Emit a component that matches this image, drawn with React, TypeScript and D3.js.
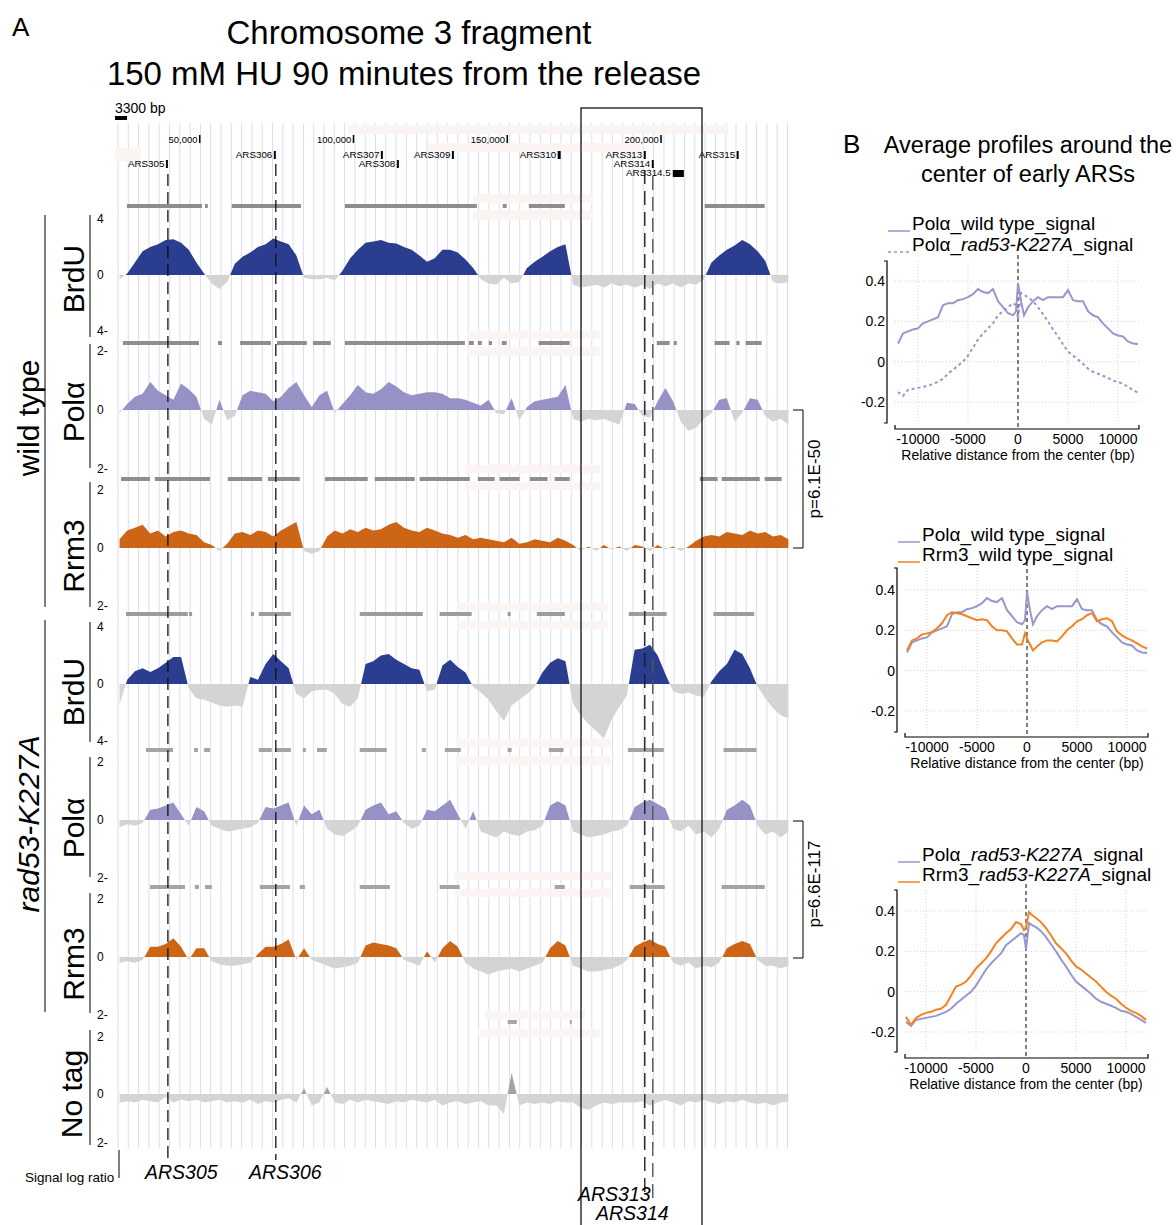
import React from 'react';
import * as d3 from 'd3';

// ================= DATA =================
// genome signal tracks: log ratio sampled every 2.5 kb starting at 24 kb (chromosome III)
const TRACK_START_KB = 24;
const TRACK_STEP_KB = 2.5;

const WT_BRDU = [-0.3,0.1,0.9,1.7,2.0,2.2,2.5,2.55,2.3,1.8, 0.9,0.1,-0.6,-1.0,-0.5,0.8,1.3,1.6,2.0,2.2, 2.6,2.4,2.2,1.4,-0.2,-0.3,-0.3,-0.2,-0.4,0.3, 1.2,1.8,2.3,2.4,2.5,2.3,2.25,2.0,1.8,1.4, 0.95,1.2,1.8,1.8,1.6,1.1,0.5,-0.3,-0.6,-0.7, -0.2,-0.6,-0.5,0.5,0.95,1.3,1.7,2.0,2.2,-0.7, -0.9,-0.8,-0.7,-0.9,-0.6,-0.8,-0.7,-0.9,-0.7,-1.0, -0.6,-0.8,-0.6,-0.9,-0.6,-0.7,-0.3,0.9,1.4,1.8, 2.1,2.5,2.2,1.7,1.0,-0.5,-0.6,-0.5];
const WT_POLA = [-0.1,0.2,0.45,0.55,0.95,0.65,0.5,0.35,0.9,0.7, 0.45,-0.3,-0.5,0.35,-0.35,-0.2,0.5,0.65,0.6,0.55, 0.3,0.45,0.75,0.95,0.5,0.1,0.5,0.65,-0.1,0.2, 0.5,0.85,0.6,0.55,0.7,0.95,0.8,0.6,0.5,0.55, 0.6,0.6,0.55,0.4,0.4,0.35,0.25,0.15,0.35,-0.1, -0.15,0.4,-0.35,0.1,0.3,0.35,0.4,0.45,0.85,-0.3, -0.4,-0.3,-0.35,-0.3,-0.4,-0.5,0.25,0.2,-0.2,-0.25, 0.3,0.75,0.3,-0.4,-0.7,-0.6,-0.3,-0.1,0.35,0.4, -0.4,-0.1,0.4,0.35,-0.2,-0.4,-0.3,-0.5];
const WT_RRM3 = [0.3,0.6,0.7,0.8,0.5,0.6,0.4,0.55,0.6,0.5, 0.45,0.2,0.1,-0.1,0.15,0.5,0.55,0.45,0.6,0.55, 0.4,0.6,0.75,0.9,-0.1,-0.2,-0.1,0.4,0.6,0.5, 0.65,0.55,0.7,0.6,0.65,0.8,0.9,0.7,0.6,0.55, 0.7,0.6,0.5,0.45,0.35,0.45,0.3,0.35,0.3,0.25, 0.2,0.35,0.15,0.2,0.3,0.25,0.2,0.35,0.25,0.1, -0.1,0.05,-0.1,0.1,-0.05,0.05,-0.1,0.1,0.05,-0.1, 0.1,-0.05,0.05,-0.1,0.05,0.25,0.4,0.45,0.4,0.55, 0.5,0.45,0.6,0.5,0.55,0.4,0.45,0.3];
const RAD_BRDU = [-1.4,0.3,0.9,1.1,0.85,1.1,1.5,1.9,1.9,-0.3, -1.0,-1.1,-1.3,-1.5,-1.6,-1.5,-1.6,0.5,0.3,1.4, 2.1,1.6,1.1,-0.7,-1.0,-0.5,-0.4,-0.4,-0.7,-1.4, -1.6,-1.0,1.4,1.6,2.0,2.1,1.7,1.4,1.1,1.0, -0.5,-0.4,1.3,1.7,1.2,0.8,-0.2,-0.6,-1.1,-1.9, -2.6,-1.5,-1.1,-0.7,-0.2,0.8,1.5,1.8,1.6,-1.4, -2.2,-2.8,-3.3,-3.8,-2.5,-1.6,-0.8,2.4,2.5,2.75, 2.0,0.7,-0.5,-0.7,-0.6,-0.8,-0.9,0.2,0.9,1.4, 2.4,2.1,1.1,-0.2,-1.0,-1.7,-2.2,-2.4];
const RAD_POLA = [-0.25,-0.15,-0.2,-0.1,0.35,0.4,0.5,0.6,0.2,-0.2, 0.45,0.3,-0.2,-0.3,-0.4,-0.35,-0.3,-0.25,-0.1,0.45, 0.4,0.5,0.6,-0.2,0.5,0.2,0.35,-0.3,-0.5,-0.55, -0.4,-0.2,0.35,0.5,0.6,0.2,0.3,-0.1,-0.3,-0.2, 0.35,0.3,0.5,0.7,0.2,-0.3,0.3,-0.4,-0.5,-0.6, -0.4,-0.5,-0.55,-0.4,-0.35,-0.2,0.5,0.65,0.5,-0.4, -0.5,-0.6,-0.55,-0.5,-0.4,-0.35,-0.2,0.45,0.6,0.7, 0.55,0.4,-0.3,-0.4,-0.2,-0.5,-0.4,-0.6,-0.3,0.35, 0.5,0.7,0.5,-0.2,-0.5,-0.4,-0.6,-0.4];
const RAD_RRM3 = [-0.2,-0.15,-0.2,-0.1,0.35,0.35,0.45,0.65,0.35,-0.1, 0.3,0.3,-0.15,-0.25,-0.3,-0.3,-0.25,-0.2,0.1,0.35, 0.35,0.45,0.6,-0.1,0.3,-0.1,-0.2,-0.3,-0.4,-0.35, -0.3,-0.2,0.4,0.5,0.45,0.4,0.3,-0.1,-0.2,-0.3, 0.2,-0.2,0.3,0.55,0.35,-0.2,-0.4,-0.5,-0.6,-0.5, -0.45,-0.4,-0.5,-0.4,-0.3,-0.2,0.3,0.55,0.4,-0.3, -0.4,-0.5,-0.5,-0.45,-0.4,-0.3,-0.1,0.35,0.5,0.6, 0.45,0.35,-0.2,-0.3,-0.2,-0.4,-0.3,-0.35,-0.2,0.3, 0.45,0.55,0.45,-0.1,-0.3,-0.3,-0.4,-0.3];
const NO_TAG = [-0.3,-0.25,-0.3,-0.2,-0.25,-0.3,-0.1,-0.3,-0.2,-0.25, -0.2,-0.3,-0.25,-0.2,-0.3,-0.25,-0.3,-0.2,-0.35,-0.25, -0.3,-0.2,-0.15,-0.3,0.2,-0.4,-0.3,0.25,-0.3,-0.35, -0.2,-0.3,-0.2,-0.25,-0.3,-0.35,-0.25,-0.3,-0.2,-0.25, -0.3,-0.2,-0.4,-0.3,-0.25,-0.35,-0.3,-0.25,-0.4,-0.4, -0.7,0.75,-0.4,-0.3,-0.35,-0.3,-0.35,-0.25,-0.3,-0.3, -0.5,-0.55,-0.4,-0.3,-0.35,-0.3,-0.3,-0.3,-0.25,-0.4, -0.3,-0.2,-0.3,-0.4,-0.25,-0.3,-0.2,-0.3,-0.35,-0.25, -0.3,-0.2,-0.3,-0.35,-0.3,-0.4,-0.3,-0.25];

// called enriched segments (kb) drawn as gray bars above each track
const WT_BRDU_SEGS = [[26.4,50.8],[51.8,52.7],[60.5,83.0],[97.3,140.2],[148.6,149.9],[157.1,168.8],[214.3,233.8]];
const WT_POLA_SEGS = [[25.1,49.8],[56.0,57.3],[63.2,73.2],[75.2,84.9],[86.9,92.7],[97.3,136.3],[137.6,139.2],[140.5,141.8],[144.1,145.1],[148.3,149.9],[160.3,170.4],[198.7,202.9],[204.2,205.2],[217.5,222.4],[224.6,225.6],[227.6,232.8]];
const WT_RRM3_SEGS = [[24.5,33.9],[35.5,53.4],[59.2,70.3],[72.2,82.6],[90.8,104.7],[107.0,120.0],[121.6,137.9],[140.5,146.0],[147.6,154.1],[157.4,163.2],[165.5,170.4],[212.7,218.5],[219.8,232.2],[233.8,239.3]];
const RAD_BRDU_SEGS = [[26.1,46.2],[46.6,47.6],[66.7,67.7],[69.3,79.7],[102.1,122.6],[128.1,138.5],[150.2,151.2],[159.7,168.8],[189.6,201.9],[217.1,230.4]];
const RAD_POLA_SEGS = [[32.6,41.4],[48.2,49.5],[51.5,53.4],[69.3,73.5],[74.5,79.7],[83.6,84.6],[88.2,91.4],[102.1,110.9],[122.3,123.6],[129.8,135.0],[150.2,151.5],[163.6,168.4],[189.3,201.0],[220.4,231.1]];
const RAD_RRM3_SEGS = [[33.9,45.3],[48.5,49.8],[51.8,54.0],[69.6,79.4],[82.6,84.3],[102.1,111.9],[128.1,134.6],[165.5,168.8],[189.9,201.3],[219.8,233.8]];
const NO_TAG_SEGS = [[150.2,153.2],[170.4,171.0]];

const POSITION_TICKS_KB = [50, 100, 150, 200];
const POSITION_TICK_LABELS = ['50,000', '100,000', '150,000', '200,000'];
const ARS_NAMES = ['ARS305','ARS306','ARS307','ARS308','ARS309','ARS310','ARS313','ARS314','ARS315'];
const ARS_KB = [39.4, 74.5, 109.3, 114.5, 132.4, 166.8, 194.8, 197.4, 225.0];
const ARS3145_KB = [203.9, 207.5];

// average profiles around early ARS centres (bp, log ratio)
const PROFILE_BP = [-12000,-11500,-11000,-10500,-10000,-9500,-9000,-8500,-8000,-7500,-7000,-6500,-6000,-5500,-5000,-4500,-4000,-3500,-3000,-2500,-2000,-1500,-1000,-500,-200,0,300,600,1000,1500,2000,2500,3000,3500,4000,4500,5000,5500,6000,6500,7000,7500,8000,8500,9000,9500,10000,10500,11000,11500,12000];
const POLA_WT_PROFILE = [0.09,0.14,0.15,0.16,0.165,0.19,0.2,0.21,0.22,0.28,0.29,0.29,0.305,0.31,0.32,0.335,0.36,0.345,0.34,0.36,0.3,0.27,0.24,0.23,0.25,0.39,0.3,0.23,0.27,0.3,0.32,0.305,0.32,0.32,0.32,0.32,0.355,0.305,0.3,0.3,0.25,0.23,0.22,0.19,0.165,0.14,0.13,0.125,0.1,0.09,0.088];
const POLA_RAD_PROFILE = [-0.15,-0.17,-0.14,-0.135,-0.13,-0.125,-0.12,-0.11,-0.1,-0.085,-0.06,-0.04,-0.02,0.0,0.03,0.07,0.11,0.14,0.165,0.19,0.23,0.25,0.27,0.29,0.28,0.21,0.34,0.33,0.32,0.3,0.27,0.235,0.2,0.16,0.125,0.085,0.05,0.03,0.01,-0.01,-0.035,-0.05,-0.06,-0.07,-0.08,-0.095,-0.1,-0.11,-0.125,-0.14,-0.155];
const RRM3_WT_PROFILE = [0.1,0.15,0.16,0.18,0.185,0.19,0.21,0.235,0.275,0.29,0.285,0.28,0.27,0.26,0.25,0.255,0.25,0.22,0.2,0.2,0.195,0.16,0.13,0.13,0.185,0.16,0.13,0.1,0.12,0.14,0.15,0.15,0.145,0.17,0.2,0.22,0.245,0.255,0.275,0.285,0.245,0.255,0.26,0.245,0.195,0.175,0.16,0.15,0.135,0.12,0.11];
const RRM3_RAD_PROFILE = [-0.125,-0.165,-0.13,-0.115,-0.105,-0.1,-0.09,-0.085,-0.065,-0.02,0.025,0.035,0.05,0.08,0.115,0.14,0.165,0.2,0.24,0.265,0.29,0.31,0.345,0.335,0.305,0.32,0.395,0.38,0.365,0.345,0.315,0.28,0.24,0.215,0.19,0.155,0.125,0.11,0.09,0.07,0.05,0.025,0.0,-0.02,-0.035,-0.06,-0.08,-0.095,-0.105,-0.12,-0.14];
const PROFILE_X_TICKS = [-10000, -5000, 0, 5000, 10000];
const PROFILE_Y_TICKS = [0.4, 0.2, 0, -0.2];

// ================= STYLE / LAYOUT =================
const FONT = "'Liberation Sans', Arial, Helvetica, sans-serif";
const BLUE = '#2b3d8f';
const PURPLE = '#9692c6';
const ORANGE = '#cc6516';
const NEG = '#d4d4d4';
const LINE_PURPLE = '#9896cc';
const LINE_ORANGE = '#f58220';

const TRACK_KB = WT_BRDU.map((_, i) => TRACK_START_KB + i * TRACK_STEP_KB);
const xKb = d3.scaleLinear().domain([23.5, 243]).range([118, 793]);

const TRACKS = [
  { values: WT_BRDU, segs: WT_BRDU_SEGS, max: 4, range: [331, 219], fill: BLUE, neg: NEG, barY: 206, barColor: '#8e8e8e', labels: ['4', '0', '4-'], vline: [215, 337] },
  { values: WT_POLA, segs: WT_POLA_SEGS, max: 2, range: [469, 351], fill: PURPLE, neg: NEG, barY: 343, barColor: '#8e8e8e', labels: ['2-', '0', '2-'], vline: [344, 468] },
  { values: WT_RRM3, segs: WT_RRM3_SEGS, max: 2, range: [606, 490], fill: ORANGE, neg: NEG, barY: 479, barColor: '#8e8e8e', labels: ['2', '0', '2-'], vline: [482, 607] },
  { values: RAD_BRDU, segs: RAD_BRDU_SEGS, max: 4, range: [741, 627], fill: BLUE, neg: NEG, barY: 614, barColor: '#9c9c9c', labels: ['4', '0', '4-'], vline: [622, 742] },
  { values: RAD_POLA, segs: RAD_POLA_SEGS, max: 2, range: [878, 762], fill: PURPLE, neg: NEG, barY: 750, barColor: '#a4a4a4', labels: ['2', '0', '2-'], vline: [757, 877] },
  { values: RAD_RRM3, segs: RAD_RRM3_SEGS, max: 2, range: [1015, 899], fill: ORANGE, neg: NEG, barY: 887, barColor: '#a4a4a4', labels: ['2', '0', '2-'], vline: [893, 1013] },
  { values: NO_TAG, segs: NO_TAG_SEGS, max: 2, range: [1151, 1037], fill: '#a3a3a3', neg: NEG, barY: 1022, barColor: '#a8a8a8', labels: ['2', '0', '2-'], vline: [1030, 1145], bottomLabelY: 1143 },
];

const PALE_BANDS = [
  [115,148,141,161],[348,125,728,134],[428,143,640,152],[473,194,593,203],[473,210,593,220],
  [467,331,600,339],[467,347,600,356],[465,465,600,473],[465,482,600,490],
  [457,603,608,611],[457,621,608,629],[456,739,610,747],[456,756,610,765],
  [455,872,612,880],[455,889,612,897],[485,1011,585,1019],[478,1029,600,1037],
];

const ARS_ROW = [1, 0, 0, 1, 0, 0, 0, 1, 0];

function buildPoints(values: number[]) {
  const pts: [number, number][] = [];
  for (let i = 0; i < values.length; i++) {
    pts.push([TRACK_KB[i], values[i]]);
    if (i < values.length - 1) {
      const a = values[i], b = values[i + 1];
      if ((a > 0 && b < 0) || (a < 0 && b > 0)) {
        const t = a / (a - b);
        pts.push([TRACK_KB[i] + t * TRACK_STEP_KB, 0]);
      }
    }
  }
  return pts;
}

function Track({ t }: { t: any }) {
  const y = d3.scaleLinear().domain([-t.max, t.max]).range(t.range);
  const pts = buildPoints(t.values);
  const pos = d3.area<[number, number]>().x(d => xKb(d[0])).y0(y(0)).y1(d => y(Math.max(0, d[1])));
  const neg = d3.area<[number, number]>().x(d => xKb(d[0])).y0(y(0)).y1(d => y(Math.min(0, d[1])));
  return (
    <g>
      {t.segs.map((s: number[], i: number) => (
        <rect key={i} x={xKb(s[0])} y={t.barY - 2} width={Math.max(2, xKb(s[1]) - xKb(s[0]))} height={4} fill={t.barColor} />
      ))}
      <path d={neg(pts) || ''} fill={t.neg} />
      <path d={pos(pts) || ''} fill={t.fill} />
      <text x={97} y={y(t.max)} fontSize={12} dominantBaseline="central">{t.labels[0]}</text>
      <text x={97} y={y(0)} fontSize={12} dominantBaseline="central">{t.labels[1]}</text>
      <text x={97} y={t.bottomLabelY ?? y(-t.max)} fontSize={12} dominantBaseline="central">{t.labels[2]}</text>
      <line x1={90} x2={90} y1={t.vline[0]} y2={t.vline[1]} stroke="#000" strokeWidth={1} />
    </g>
  );
}

const CHARTS = [
  { x0: 898, x1: 1138, y04: 281, yM02: 402, axisX: 887, top: 261, bottom: 423, xAxisY: 429, xl: 895, xr: 1139, legX: 888, legY: [230, 251],
    series: [{ data: POLA_WT_PROFILE, color: LINE_PURPLE, dash: null, label: ['Polα_wild type_signal'] }, { data: POLA_RAD_PROFILE, color: LINE_PURPLE, dash: '3,3', label: ['Polα_', 'rad53-K227A', '_signal'] }] },
  { x0: 907, x1: 1147, y04: 590, yM02: 711, axisX: 897, top: 568, bottom: 732, xAxisY: 737, xl: 905, xr: 1148, legX: 898, legY: [541, 561],
    series: [{ data: POLA_WT_PROFILE, color: LINE_PURPLE, dash: null, label: ['Polα_wild type_signal'] }, { data: RRM3_WT_PROFILE, color: LINE_ORANGE, dash: null, label: ['Rrm3_wild type_signal'] }] },
  { x0: 906, x1: 1146, y04: 911, yM02: 1032, axisX: 897, top: 890, bottom: 1052, xAxisY: 1058, xl: 905, xr: 1148, legX: 898, legY: [861, 881],
    series: [{ data: POLA_RAD_PROFILE, color: LINE_PURPLE, dash: null, label: ['Polα_', 'rad53-K227A', '_signal'] }, { data: RRM3_RAD_PROFILE, color: LINE_ORANGE, dash: null, label: ['Rrm3_', 'rad53-K227A', '_signal'] }] },
];

function ProfileChart({ c }: { c: any }) {
  const x = d3.scaleLinear().domain([-12000, 12000]).range([c.x0, c.x1]);
  const y = d3.scaleLinear().domain([-0.2, 0.4]).range([c.yM02, c.y04]);
  const line = d3.line<number>().x((_, i) => x(PROFILE_BP[i])).y(d => y(d));
  return (
    <g>
      {PROFILE_X_TICKS.filter(v => v !== 0).map(v => (
        <line key={'gx' + v} x1={x(v)} x2={x(v)} y1={c.top} y2={c.bottom} stroke="#c8c8c8" strokeWidth={0.8} strokeDasharray="1,2" />
      ))}
      {PROFILE_Y_TICKS.map(v => (
        <line key={'gy' + v} x1={c.xl} x2={c.xr} y1={y(v)} y2={y(v)} stroke="#c8c8c8" strokeWidth={0.8} strokeDasharray="1,2" />
      ))}
      <line x1={x(0)} x2={x(0)} y1={c.top - 6} y2={c.xAxisY} stroke="#000" strokeWidth={1} strokeDasharray="4,3" />
      {c.series.map((s: any, i: number) => (
        <path key={i} d={line(s.data) || ''} fill="none" stroke={s.color} strokeWidth={2} strokeDasharray={s.dash || undefined} />
      ))}
      {/* y axis */}
      <path d={`M${c.axisX - 3},${c.top}H${c.axisX}V${c.bottom}H${c.axisX - 3}`} fill="none" stroke="#000" strokeWidth={1.2} />
      {PROFILE_Y_TICKS.map(v => (
        <text key={'yl' + v} x={c.axisX - 2} y={y(v)} fontSize={14} textAnchor="end" dominantBaseline="central">{String(v)}</text>
      ))}
      {/* x axis */}
      <path d={`M${c.xl},${c.xAxisY - 4}V${c.xAxisY}H${c.xr}V${c.xAxisY - 4}`} fill="none" stroke="#000" strokeWidth={1.2} />
      {PROFILE_X_TICKS.map(v => (
        <text key={'xl' + v} x={x(v)} y={c.xAxisY + 15} fontSize={14} textAnchor="middle">{String(v)}</text>
      ))}
      <text x={x(0)} y={c.xAxisY + 31} fontSize={14} textAnchor="middle">Relative distance from the center (bp)</text>
      {/* legend */}
      {c.series.map((s: any, i: number) => (
        <g key={'lg' + i}>
          <line x1={c.legX} x2={c.legX + 22} y1={c.legY[i] + 1} y2={c.legY[i] + 1} stroke={s.color} strokeWidth={1.5} strokeDasharray={s.dash || undefined} />
          <text x={c.legX + 24} y={c.legY[i]} fontSize={19}>
            {s.label.map((p: string, k: number) => (
              <tspan key={k} fontStyle={k === 1 ? 'italic' : 'normal'}>{p}</tspan>
            ))}
          </text>
        </g>
      ))}
    </g>
  );
}

export default function App() {
  const grid = d3.range(118, 795, 10.3);
  const ars = (name: string) => xKb(ARS_KB[ARS_NAMES.indexOf(name)]);
  return (
    <div style={{ position: 'absolute', left: 0, top: 0 }}>
      <svg width={1176} height={1225} style={{ display: 'block', fontFamily: FONT }}>
        <rect width={1176} height={1225} fill="#fff" />
        {/* panel A heading */}
        <text x={12} y={36} fontSize={26}>A</text>
        <text x={409} y={44} fontSize={33} textAnchor="middle">Chromosome 3 fragment</text>
        <text x={404} y={85} fontSize={33} textAnchor="middle">150 mM HU 90 minutes from the release</text>
        <text x={115} y={113} fontSize={14}>3300 bp</text>
        <rect x={115} y={116} width={12} height={4} fill="#000" />

        {/* browser grid */}
        {grid.map((gx, i) => (
          <line key={i} x1={gx} x2={gx} y1={123} y2={1148} stroke="#dcdcf0" strokeWidth={1} />
        ))}
        {PALE_BANDS.map((b, i) => (
          <rect key={'pb' + i} x={b[0]} y={b[1]} width={b[2] - b[0]} height={b[3] - b[1]} fill="#faf5f3" />
        ))}

        {/* coordinates */}
        {POSITION_TICKS_KB.map((kb, i) => (
          <g key={'pt' + i}>
            <text x={xKb(kb) - 2} y={143} fontSize={9.5} textAnchor="end">{POSITION_TICK_LABELS[i]}</text>
            <rect x={xKb(kb) - 0.5} y={135} width={1.5} height={8} fill="#000" />
          </g>
        ))}
        {ARS_NAMES.map((n, i) => {
          const bx = xKb(ARS_KB[i]);
          const by = ARS_ROW[i] === 0 ? 158 : 167;
          return (
            <g key={n}>
              <text x={bx - 2.5} y={by} fontSize={9.8} textAnchor="end">{n}</text>
              <rect x={bx - 1} y={by - 7} width={n === 'ARS310' ? 3 : 2} height={8} fill="#000" />
            </g>
          );
        })}
        <text x={xKb(ARS3145_KB[0]) - 2} y={176} fontSize={9.8} textAnchor="end">ARS314.5</text>
        <rect x={xKb(ARS3145_KB[0])} y={170} width={xKb(ARS3145_KB[1]) - xKb(ARS3145_KB[0])} height={7} fill="#000" />

        {/* tracks */}
        {TRACKS.map((t, i) => <Track key={i} t={t} />)}

        {/* ARS dashed lines */}
        <line x1={ars('ARS305') + 1} x2={ars('ARS305') + 1} y1={174} y2={1160} stroke="#111" strokeWidth={1.3} strokeDasharray="12,6" />
        <line x1={ars('ARS306') + 1} x2={ars('ARS306') + 1} y1={164} y2={1160} stroke="#111" strokeWidth={1.3} strokeDasharray="12,6" />
        <line x1={ars('ARS313')} x2={ars('ARS313')} y1={170} y2={1192} stroke="#222" strokeWidth={1.4} strokeDasharray="14,7" />
        <line x1={ars('ARS314')} x2={ars('ARS314')} y1={176} y2={1205} stroke="#555" strokeWidth={1.4} strokeDasharray="14,7" />

        {/* highlight box */}
        <rect x={581} y={108} width={121} height={1130} fill="none" stroke="#000" strokeWidth={1.2} />

        {/* p-value brackets */}
        <path d="M793,410H803V548H793" fill="none" stroke="#000" strokeWidth={1} />
        <text transform="translate(820,479) rotate(-90)" fontSize={17} textAnchor="middle">p=6.1E-50</text>
        <path d="M793,821H803V958H793" fill="none" stroke="#000" strokeWidth={1} />
        <text transform="translate(820,884) rotate(-90)" fontSize={17} textAnchor="middle">p=6.6E-117</text>

        {/* left labels */}
        <line x1={45} x2={45} y1={215} y2={607} stroke="#000" strokeWidth={1} />
        <line x1={45} x2={45} y1={620} y2={1012} stroke="#000" strokeWidth={1} />
        <text transform="translate(39,418) rotate(-90)" fontSize={30} textAnchor="middle">wild type</text>
        <text transform="translate(39,824) rotate(-90)" fontSize={30} textAnchor="middle" fontStyle="italic">rad53-K227A</text>
        <text transform="translate(84,279) rotate(-90)" fontSize={30} textAnchor="middle">BrdU</text>
        <text transform="translate(84,412) rotate(-90)" fontSize={30} textAnchor="middle">Polα</text>
        <text transform="translate(84,556) rotate(-90)" fontSize={30} textAnchor="middle">Rrm3</text>
        <text transform="translate(84,692) rotate(-90)" fontSize={30} textAnchor="middle">BrdU</text>
        <text transform="translate(84,828) rotate(-90)" fontSize={30} textAnchor="middle">Polα</text>
        <text transform="translate(84,964) rotate(-90)" fontSize={30} textAnchor="middle">Rrm3</text>
        <text transform="translate(82,1094) rotate(-90)" fontSize={30} textAnchor="middle">No tag</text>

        {/* bottom labels */}
        <line x1={119} x2={119} y1={1150} y2={1178} stroke="#000" strokeWidth={1} />
        <text x={25} y={1182} fontSize={13.5}>Signal log ratio</text>
        <text x={145} y={1179} fontSize={19.5} fontStyle="italic">ARS305</text>
        <text x={249} y={1179} fontSize={19.5} fontStyle="italic">ARS306</text>
        <text x={578} y={1201} fontSize={19.5} fontStyle="italic">ARS313</text>
        <text x={596} y={1220} fontSize={19.5} fontStyle="italic">ARS314</text>

        {/* panel B */}
        <text x={843} y={153} fontSize={26}>B</text>
        <text x={1028} y={153} fontSize={23.5} textAnchor="middle">Average profiles around the</text>
        <text x={1028} y={182} fontSize={23.5} textAnchor="middle">center of early ARSs</text>
        {CHARTS.map((c, i) => <ProfileChart key={i} c={c} />)}
      </svg>
    </div>
  );
}
